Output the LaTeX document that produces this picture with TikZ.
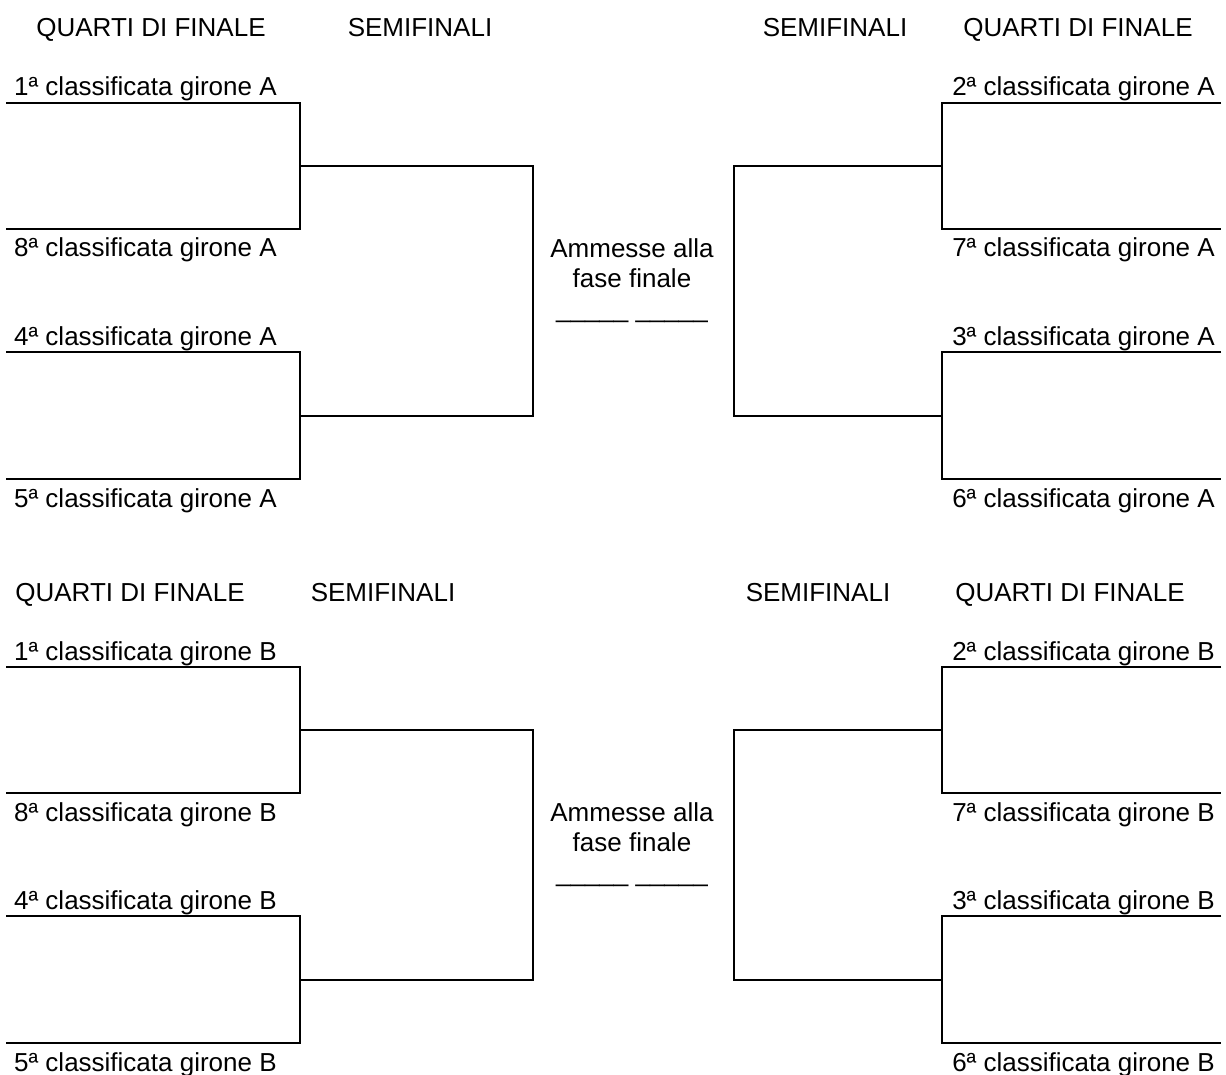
\documentclass[tikz,border=0pt]{standalone}
\usepackage{fontspec}
\setmainfont{Liberation Sans}
\usetikzlibrary{positioning}
\tikzset{bracket/.style={line width=2.6pt},
  team/.style={inner sep=0pt,font=\fontsize{26}{30}\selectfont},
  phase/.style={inner sep=0pt,font=\fontsize{26}{30}\selectfont},
  admitted/.style={inner sep=0pt,align=center,font=\fontsize{26}{30}\selectfont}}

\begin{document}
\begin{tikzpicture}[x=1pt,y=-1pt]
\useasboundingbox (0,0) rectangle (1226,1075);
\foreach \g/\dy/\qa/\sa/\sb/\qb in {A/0/151/420/835/1078,B/564/130/383/818/1070}{
  % headers
  \node[phase,anchor=base] (qL\g) at (\qa,37+\dy) {QUARTI DI FINALE};
  \node[phase,anchor=base] (sL\g) at (\sa,37+\dy) {SEMIFINALI};
  \node[phase,anchor=base] (sR\g) at (\sb,37+\dy) {SEMIFINALI};
  \node[phase,anchor=base] (qR\g) at (\qb,37+\dy) {QUARTI DI FINALE};
  % line ends
  \coordinate (p1\g) at (6,103+\dy);
  \coordinate (p8\g) at (6,229+\dy);
  \coordinate (p4\g) at (6,352+\dy);
  \coordinate (p5\g) at (6,479+\dy);
  \coordinate (p2\g) at (1221,103+\dy);
  \coordinate (p7\g) at (1221,229+\dy);
  \coordinate (p3\g) at (1221,352+\dy);
  \coordinate (p6\g) at (1221,479+\dy);
  \coordinate (s1\g) at (300,166+\dy);
  \coordinate (s4\g) at (300,416+\dy);
  \coordinate (s2\g) at (942,166+\dy);
  \coordinate (s3\g) at (942,416+\dy);
  \coordinate (fL\g) at (533,291+\dy);
  \coordinate (fR\g) at (734,291+\dy);
  % quarti
  \draw[bracket] (p1\g) -| (s1\g) |- (p8\g);
  \draw[bracket] (p4\g) -| (s4\g) |- (p5\g);
  \draw[bracket] (p2\g) -| (s2\g) |- (p7\g);
  \draw[bracket] (p3\g) -| (s3\g) |- (p6\g);
  % semifinali
  \draw[bracket] (s1\g) -| (fL\g) |- (s4\g);
  \draw[bracket] (s2\g) -| (fR\g) |- (s3\g);
  % teams
  \node[team,anchor=base west] (t1\g) at (14,96+\dy) {1ª classificata girone \g};
  \node[team,anchor=base west] (t8\g) at (14,257+\dy) {8ª classificata girone \g};
  \node[team,anchor=base west] (t4\g) at (14,345+\dy) {4ª classificata girone \g};
  \node[team,anchor=base west] (t5\g) at (14,507+\dy) {5ª classificata girone \g};
  \node[team,anchor=base east] (t2\g) at (1215,96+\dy) {2ª classificata girone \g};
  \node[team,anchor=base east] (t7\g) at (1215,257+\dy) {7ª classificata girone \g};
  \node[team,anchor=base east] (t3\g) at (1215,345+\dy) {3ª classificata girone \g};
  \node[team,anchor=base east] (t6\g) at (1215,507+\dy) {6ª classificata girone \g};
  \node[admitted,anchor=base] (ad\g) at (632,317+\dy) {Ammesse alla\\fase finale\\\_\_\_\_\_ \_\_\_\_\_};
}
\end{tikzpicture}
\end{document}
